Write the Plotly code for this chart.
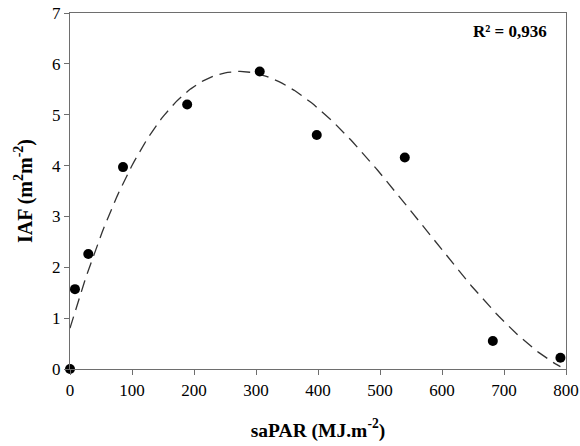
import numpy as np
import plotly.graph_objects as go

sapar = [0, 8, 29.5, 85.5, 189, 306, 398, 540, 682, 791]
iaf = [0.0, 1.57, 2.26, 3.97, 5.20, 5.85, 4.60, 4.16, 0.55, 0.22]

x_ticks = [0, 100, 200, 300, 400, 500, 600, 700, 800]
y_ticks = [0, 1, 2, 3, 4, 5, 6, 7]
r2_label = "R² = 0,936"

# Cubic regression fitted to the observed data
coef = np.polyfit(sapar, iaf, 3)
xf = np.linspace(min(sapar), max(sapar), 200)
yf = np.polyval(coef, xf)

fig = go.Figure()
fig.add_trace(go.Scatter(
    x=xf, y=yf, mode="lines",
    line=dict(color="#333333", width=1.3, dash="12px,7px"),
    hoverinfo="skip", showlegend=False, cliponaxis=False,
))
fig.add_trace(go.Scatter(
    x=sapar, y=iaf, mode="markers",
    marker=dict(color="black", size=10),
    showlegend=False, cliponaxis=False,
))

font_family = "Liberation Serif, Times New Roman, serif"
axis_common = dict(
    showgrid=False, zeroline=False, showline=True, linecolor="#6e6e6e",
    linewidth=1.2, mirror=True, ticks="outside", ticklen=5, tickwidth=1,
    tickcolor="#6e6e6e", tickfont=dict(family=font_family, size=17, color="black"),
    automargin=False,
)

fig.update_layout(
    width=580, height=446,
    margin=dict(l=70, r=14, t=13, b=77),
    plot_bgcolor="white", paper_bgcolor="white",
    font=dict(family=font_family, color="black"),
    xaxis=dict(range=[0, 800], tickvals=x_ticks, **axis_common,
               title=dict(text="<b>saPAR (MJ.m<sup>-2</sup>)</b>",
                          font=dict(family=font_family, size=19.5), standoff=24)),
    yaxis=dict(range=[0, 7], tickvals=y_ticks, **axis_common,
               title=dict(text="<b>IAF (m<sup>2</sup>m<sup>-2</sup>)</b>",
                          font=dict(family=font_family, size=20), standoff=14)),
    annotations=[dict(
        x=0.966, y=0.947, xref="paper", yref="paper", xanchor="right", yanchor="middle",
        text="<b>" + r2_label + "</b>", showarrow=False,
        font=dict(family=font_family, size=17, color="black"),
    )],
)

fig.write_html("out.html", config={"displayModeBar": False},
               post_script="document.body.style.margin='0';")
